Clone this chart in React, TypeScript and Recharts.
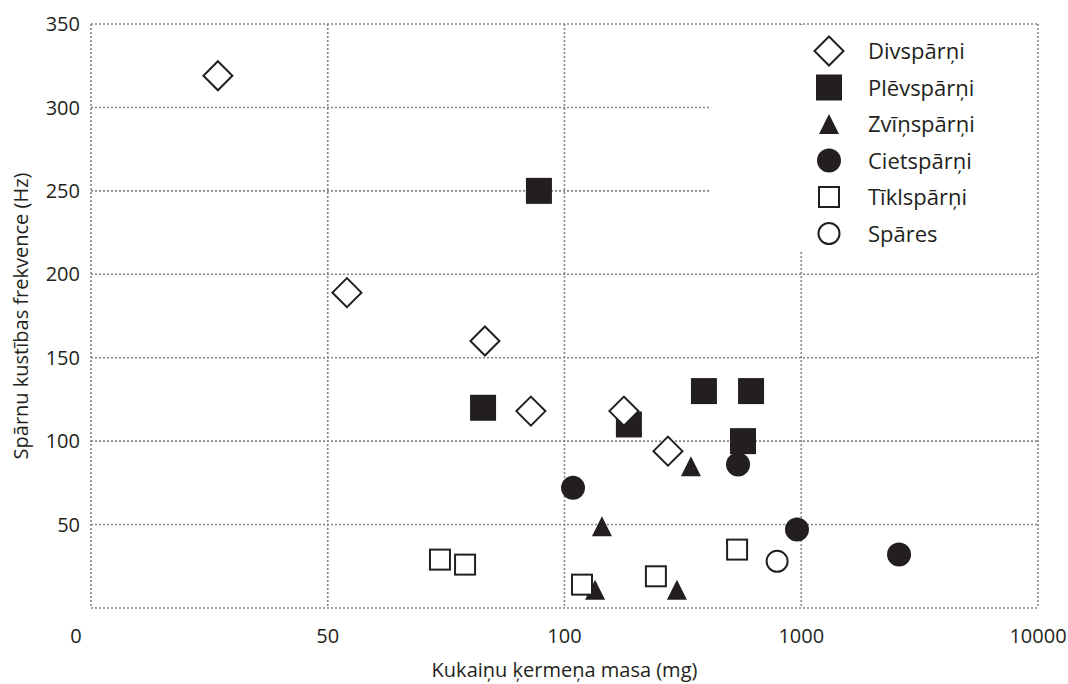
import React from 'react';
import { ScatterChart, Scatter, XAxis, YAxis, CartesianGrid, Legend, Label } from 'recharts';

// x values are positions on the segmented mass axis (0 | 50 | 100 | 1000 | 10000)
const xTicks = [0, 1, 2, 3, 4];
const xTickLabels = ['0', '50', '100', '1000', '10000'];
const yTicks = [0, 50, 100, 150, 200, 250, 300, 350];

const divsparni = [
  { x: 0.536, y: 319 },
  { x: 1.081, y: 189 },
  { x: 1.664, y: 160 },
  { x: 1.858, y: 118 },
  { x: 2.251, y: 118 },
  { x: 2.437, y: 94 },
];
const plevsparni = [
  { x: 1.892, y: 250 },
  { x: 1.656, y: 120 },
  { x: 2.272, y: 110 },
  { x: 2.589, y: 130 },
  { x: 2.788, y: 130 },
  { x: 2.754, y: 100 },
];
const zvinsparni = [
  { x: 2.534, y: 85 },
  { x: 2.158, y: 49 },
  { x: 2.129, y: 11 },
  { x: 2.475, y: 11 },
];
const cietsparni = [
  { x: 2.036, y: 72 },
  { x: 2.733, y: 86 },
  { x: 2.982, y: 47 },
  { x: 3.413, y: 32 },
];
const tiklsparni = [
  { x: 1.474, y: 29 },
  { x: 1.58, y: 26 },
  { x: 2.074, y: 14 },
  { x: 2.386, y: 19 },
  { x: 2.729, y: 35 },
];
const spares = [{ x: 2.898, y: 28 }];

const INK = '#231f20';
const FONT = '"Open Sans", sans-serif';
const FS = 20;

type Kind = 'diamond' | 'square' | 'triangle' | 'circle' | 'openSquare' | 'openCircle';

const Marker = ({ kind, cx, cy }: { kind: Kind; cx: number; cy: number }) => {
  if (kind === 'diamond') {
    const r = 14.5;
    return (
      <polygon
        points={`${cx},${cy - r} ${cx + r},${cy} ${cx},${cy + r} ${cx - r},${cy}`}
        fill="#fff"
        stroke={INK}
        strokeWidth={2}
      />
    );
  }
  if (kind === 'square') {
    return <rect x={cx - 13} y={cy - 13} width={26} height={26} fill={INK} />;
  }
  if (kind === 'triangle') {
    return <polygon points={`${cx},${cy - 10} ${cx + 10},${cy + 10} ${cx - 10},${cy + 10}`} fill={INK} />;
  }
  if (kind === 'circle') {
    return <circle cx={cx} cy={cy} r={12} fill={INK} />;
  }
  if (kind === 'openSquare') {
    return <rect x={cx - 10} y={cy - 10} width={20} height={20} fill="#fff" stroke={INK} strokeWidth={2} />;
  }
  return <circle cx={cx} cy={cy} r={10.5} fill="#fff" stroke={INK} strokeWidth={2} />;
};

const shapeOf = (kind: Kind) => (props: any) => <Marker kind={kind} cx={props.cx} cy={props.cy} />;

const legendItems: { name: string; kind: Kind }[] = [
  { name: 'Divspārņi', kind: 'diamond' },
  { name: 'Plēvspārņi', kind: 'square' },
  { name: 'Zvīņspārņi', kind: 'triangle' },
  { name: 'Cietspārņi', kind: 'circle' },
  { name: 'Tīklspārņi', kind: 'openSquare' },
  { name: 'Spāres', kind: 'openCircle' },
];

const LegendBox = () => (
  <svg width={328} height={225} style={{ display: 'block' }}>
    {legendItems.map((item, i) => {
      const cy = 26 + i * 36.5;
      return (
        <g key={item.name}>
          <Marker kind={item.kind} cx={120} cy={cy} />
          <text x={159} y={cy + 8} fontSize={22} fontFamily={FONT} fill={INK}>
            {item.name}
          </text>
        </g>
      );
    })}
  </svg>
);

const XTick = (props: any) => {
  const { x, y, payload } = props;
  const shift = payload.value === 0 ? -15 : 0;
  return (
    <text x={x + shift} y={y + 14} textAnchor="middle" fontSize={FS} fontFamily={FONT} fill={INK}>
      {xTickLabels[payload.value]}
    </text>
  );
};

export default function App() {
  return (
    <div style={{ position: 'absolute', left: 0, top: 0 }}>
      <ScatterChart width={1068} height={684} margin={{ top: 24, right: 30, left: 0, bottom: 0 }}>
        <CartesianGrid stroke="#858585" strokeWidth={1.6} strokeDasharray="2 2" />
        <XAxis
          type="number"
          dataKey="x"
          domain={[0, 4]}
          ticks={xTicks}
          axisLine={false}
          tickLine={false}
          tickMargin={15}
          height={76}
          tick={<XTick />}
          interval={0}
        >
          <Label
            value="Kukaiņu ķermeņa masa (mg)"
            position="insideBottom"
            offset={7}
            style={{ fontSize: FS, fontFamily: FONT, fill: INK }}
          />
        </XAxis>
        <YAxis
          type="number"
          dataKey="y"
          domain={[0, 350]}
          ticks={yTicks}
          axisLine={false}
          tickLine={false}
          tickMargin={5}
          width={91}
          interval={0}
          tick={{ fontSize: FS, fontFamily: FONT, fill: INK }}
          tickFormatter={(v: number) => (v === 0 ? '' : String(v))}
        >
          <Label
            value="Spārnu kustības frekvence (Hz)"
            angle={-90}
            position="insideLeft"
            offset={21}
            style={{ textAnchor: 'middle', fontSize: FS, fontFamily: FONT, fill: INK }}
          />
        </YAxis>
        <Legend
          layout="vertical"
          align="center"
          verticalAlign="middle"
          content={() => <LegendBox />}
          wrapperStyle={{ left: 709, top: 25, width: 328, height: 225, background: '#fff' }}
        />
        <Scatter name="Plēvspārņi" data={plevsparni} shape={shapeOf('square')} isAnimationActive={false} />
        <Scatter name="Cietspārņi" data={cietsparni} shape={shapeOf('circle')} isAnimationActive={false} />
        <Scatter name="Zvīņspārņi" data={zvinsparni} shape={shapeOf('triangle')} isAnimationActive={false} />
        <Scatter name="Divspārņi" data={divsparni} shape={shapeOf('diamond')} isAnimationActive={false} />
        <Scatter name="Tīklspārņi" data={tiklsparni} shape={shapeOf('openSquare')} isAnimationActive={false} />
        <Scatter name="Spāres" data={spares} shape={shapeOf('openCircle')} isAnimationActive={false} />
      </ScatterChart>
    </div>
  );
}
